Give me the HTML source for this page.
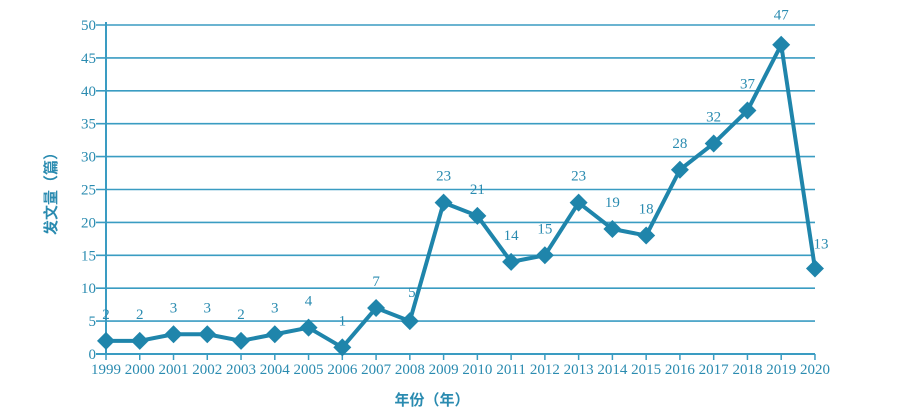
<!DOCTYPE html>
<html><head><meta charset="utf-8"><style>
body{margin:0;background:#fff;}
svg text{font-family:"Liberation Serif","Noto Serif CJK SC",serif;fill:#2a8bb0;}
</style></head><body>
<svg width="924" height="412" xmlns="http://www.w3.org/2000/svg">
<g stroke="#3a9cc2" stroke-width="2">
<line x1="106" y1="22" x2="106" y2="354"/>
<line x1="96" y1="354" x2="815" y2="354"/>
</g>
<g id="grid" stroke="#3a9cc2" stroke-width="1.6"></g>
<g id="labels" font-size="15"></g>
<polyline id="ln" fill="none" stroke="#1f85ab" stroke-width="4" stroke-linejoin="round"/>
<g id="mk" fill="#1f85ab"></g>
<g id="dl" font-size="15" text-anchor="middle"></g>
<text x="56" y="190" font-size="15" font-weight="bold" transform="rotate(-90 56 190)" text-anchor="middle" style="font-family:'Noto Sans CJK SC',sans-serif">发文量（篇）</text>
<text x="432" y="405" font-size="15" font-weight="bold" text-anchor="middle" style="font-family:'Noto Sans CJK SC',sans-serif">年份（年）</text>
</svg>
<script>
var ns="http://www.w3.org/2000/svg";
function el(t,a,p,txt){var e=document.createElementNS(ns,t);for(var k in a)e.setAttribute(k,a[k]);if(txt!==undefined)e.textContent=txt;document.getElementById(p).appendChild(e);return e;}
var y0=354,u=6.58,x0=106,st=33.76;
for(var v=5;v<=50;v+=5){var y=y0-v*u;el("line",{x1:96,y1:y,x2:815,y2:y},"grid");}
for(var v=0;v<=50;v+=5){el("text",{x:96,y:y0-v*u+5,"text-anchor":"end"},"labels",v);}
var d=[2,2,3,3,2,3,4,1,7,5,23,21,14,15,23,19,18,28,32,37,47,13];
var pts=[];
for(var i=0;i<22;i++){var x=x0+i*st,y=y0-d[i]*u;pts.push(x+","+y);
el("line",{x1:x,y1:354,x2:x,y2:360,stroke:"#3a9cc2","stroke-width":1.5},"grid");
el("text",{x:x,y:374,"text-anchor":"middle"},"labels",1999+i);
el("polygon",{points:(x)+","+(y-9)+" "+(x+9)+","+y+" "+x+","+(y+9)+" "+(x-9)+","+y},"mk");
var lx=x,ly=y-22;if(i==21){lx=x+6;ly=y-20;}if(i==9){lx=x+2;ly=y-24;}if(i==20){ly=y-25;}
el("text",{x:lx,y:ly},"dl",d[i]);}
document.getElementById("ln").setAttribute("points",pts.join(" "));
</script>
</body></html>
